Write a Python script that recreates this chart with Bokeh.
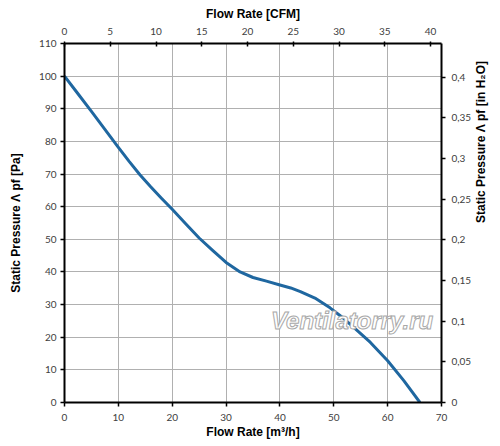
import math
from bokeh.plotting import figure
from bokeh.models import Range1d, LinearAxis, FixedTicker, Label
from bokeh.embed import file_html
from bokeh.resources import INLINE

# Data (flow in m3/h, static pressure in Pa)
flow_m3h = [0, 2.5, 5.0, 7.5, 10.0, 12.0, 14.0, 16.0, 18.0, 20.0, 22.5, 25.0,
            27.5, 30.0, 32.6, 35.0, 37.5, 40.0, 42.0, 43.8, 46.5, 49.3, 51.5,
            53.7, 56.8, 60.0, 63.0, 66.0]
pressure_pa = [100, 94.6, 89.2, 83.7, 78.2, 73.9, 69.8, 66.1, 62.6, 59.2,
               54.8, 50.4, 46.6, 42.9, 40, 38.3, 37.2, 36.0, 35.1, 34.0, 32.0,
               29.0, 26.2, 23.0, 18.4, 12.8, 6.7, 0]

x_ticks = [0, 10, 20, 30, 40, 50, 60, 70]
y_ticks = [0, 10, 20, 30, 40, 50, 60, 70, 80, 90, 100, 110]
cfm_ticks = [0, 5, 10, 15, 20, 25, 30, 35, 40]
inh2o_ticks = [0, 0.05, 0.1, 0.15, 0.2, 0.25, 0.3, 0.35, 0.4]
inh2o_labels = ["0", "0,05", "0,1", "0,15", "0,2", "0,25", "0,3", "0,35", "0,4"]

X_MAX = 70
Y_MAX = 110
M3H_PER_CFM = 1.69901
PA_PER_INH2O = 249.089

p = figure(width=500, height=446, output_backend="svg", toolbar_location=None,
           x_range=Range1d(0, X_MAX), y_range=Range1d(0, Y_MAX),
           min_border_left=64, min_border_right=59, min_border_top=43,
           min_border_bottom=44)
p.outline_line_color = None
p.background_fill_color = "white"

p.extra_x_ranges = {"cfm": Range1d(0, X_MAX / M3H_PER_CFM)}
p.extra_y_ranges = {"inh2o": Range1d(0, Y_MAX / PA_PER_INH2O)}

bottom = p.below[0]
left = p.left[0]

top = LinearAxis(x_range_name="cfm", axis_label="Flow Rate [CFM]")
top.ticker = FixedTicker(ticks=cfm_ticks)
p.add_layout(top, "above")

right = LinearAxis(y_range_name="inh2o",
                   axis_label="Static Pressure Λ pf [in H₂O]")
right.ticker = FixedTicker(ticks=inh2o_ticks)
right.major_label_overrides = {t: l for t, l in zip(inh2o_ticks, inh2o_labels)}
if "axis_label_orientation" in right.properties():
    right.axis_label_orientation = math.pi / 2
p.add_layout(right, "right")

bottom.ticker = FixedTicker(ticks=x_ticks)
bottom.axis_label = "Flow Rate [m³/h]"
left.ticker = FixedTicker(ticks=y_ticks)
left.axis_label = "Static Pressure Λ pf [Pa]"

for ax in [bottom, left, top, right]:
    ax.axis_line_color = "black"
    ax.axis_line_width = 2
    ax.major_tick_line_color = "black"
    ax.major_tick_line_width = 1.5
    ax.major_tick_out = 4
    ax.major_tick_in = 0
    ax.minor_tick_line_color = None
    ax.major_label_text_font = "Lato"
    ax.major_label_text_font_size = "10px"
    ax.major_label_text_color = "#404040"
    ax.axis_label_text_font = "Liberation Sans"
    ax.axis_label_text_font_size = "12px"
    ax.axis_label_text_font_style = "bold"
    ax.axis_label_text_color = "black"
    ax.major_label_standoff = 5
    ax.axis_label_standoff = 4

top.major_tick_in = 3
top.major_tick_out = 2
top.major_label_standoff = 7
top.axis_label_standoff = 4
bottom.major_label_standoff = 7
bottom.axis_label_standoff = 1
left.major_label_standoff = 4
left.axis_label_standoff = 13
right.major_label_standoff = 6
right.axis_label_standoff = 7

p.xgrid.grid_line_color = "#b0b0b0"
p.ygrid.grid_line_color = "#b0b0b0"
p.xgrid.grid_line_width = 1
p.ygrid.grid_line_width = 1

p.line(flow_m3h, pressure_pa, line_color="#1f67a0", line_width=3,
       line_join="round")

wm = Label(x=53.4, y=25.1, text="Ventilatorry.ru", text_font="Liberation Sans",
           text_font_style="bold italic", text_font_size="24px",
           text_color="white", text_align="center", text_baseline="middle",
           text_outline_color="#a8a8a8")
p.add_layout(wm)

open("out.html", "w").write(file_html(p, INLINE))
